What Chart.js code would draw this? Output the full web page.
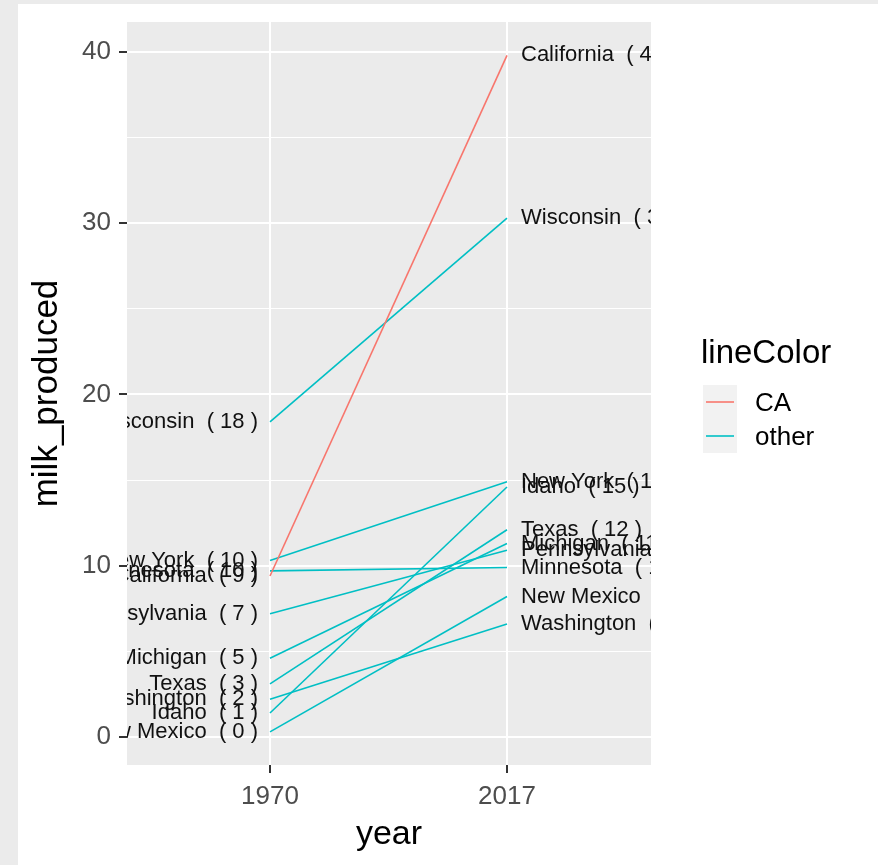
<!DOCTYPE html>
<html>
<head>
<meta charset="utf-8">
<script src="https://cdn.jsdelivr.net/npm/chart.js@4.4.1/dist/chart.umd.min.js"></script>
<style>
  html, body { margin: 0; padding: 0; background: #ebebeb; }
  #wrap { position: absolute; left: 18px; top: 4px; width: 860px; height: 861px; background: #ffffff; }
  #chart { display: block; }
</style>
</head>
<body>
<div id="wrap"><canvas id="chart" width="860" height="861"></canvas></div>
<script>
// datos: producción de leche por estado, 1970 vs 2017
const states = ['California', 'Wisconsin', 'New York', 'Minnesota', 'Pennsylvania', 'Michigan', 'Texas', 'Washington', 'Idaho', 'New Mexico'];
const years = [1970, 2017];
const milk1970 = [9.4, 18.4, 10.3, 9.7, 7.2, 4.6, 3.1, 2.2, 1.4, 0.3];
const milk2017 = [39.8, 30.3, 14.9, 9.9, 10.9, 11.3, 12.1, 6.6, 14.6, 8.2];
const lineColor = ['CA', 'other', 'other', 'other', 'other', 'other', 'other', 'other', 'other', 'other'];
const groups = ['CA', 'other'];
const groupColors = { CA: '#F8766D', other: '#00BFC4' };
const yTicks = [0, 5, 10, 15, 20, 25, 30, 35, 40];

const FONT = '"Liberation Sans", Arial, Helvetica, sans-serif';

const datasets = states.map((s, i) => ({
    label: s,
    data: [{ x: years[0], y: milk1970[i] }, { x: years[1], y: milk2017[i] }],
    borderColor: groupColors[lineColor[i]],
    borderWidth: 1.6,
    pointRadius: 0,
    fill: false,
    tension: 0
}));

function labelText(name, v) {
    return name + '  ( ' + Math.round(v) + ' )';
}

// fondo del panel, etiquetas de texto y leyenda
const slopePlugin = {
    id: 'slope',
    beforeDraw(chart) {
        const { ctx, chartArea: a } = chart;
        ctx.save();
        ctx.fillStyle = '#EBEBEB';
        ctx.fillRect(a.left, a.top, a.right - a.left, a.bottom - a.top);
        ctx.restore();
    },
    afterDatasetsDraw(chart) {
        const { ctx, chartArea: a, scales } = chart;
        const x = scales.x, y = scales.y;
        ctx.save();
        ctx.beginPath();
        ctx.rect(a.left, a.top, a.right - a.left, a.bottom - a.top);
        ctx.clip();
        ctx.font = '22px ' + FONT;
        ctx.fillStyle = '#111111';
        ctx.textBaseline = 'middle';
        states.forEach((s, i) => {
            ctx.textAlign = 'right';
            ctx.fillText(labelText(s, milk1970[i]), x.getPixelForValue(years[0]) - 12, y.getPixelForValue(milk1970[i]));
            ctx.textAlign = 'left';
            ctx.fillText(labelText(s, milk2017[i]), x.getPixelForValue(years[1]) + 14, y.getPixelForValue(milk2017[i]));
        });
        ctx.restore();
    },
    afterDraw(chart) {
        const ctx = chart.ctx;
        ctx.save();
        ctx.fillStyle = '#000';
        ctx.textBaseline = 'middle';
        ctx.textAlign = 'left';
        ctx.font = '33px ' + FONT;
        ctx.fillText('lineColor', 683, 350);
        ctx.font = '26px ' + FONT;
        groups.forEach((g, k) => {
            const top = 381 + k * 34;
            ctx.fillStyle = '#F2F2F2';
            ctx.fillRect(685, top, 34, 34);
            ctx.strokeStyle = groupColors[g];
            ctx.lineWidth = 1.6;
            ctx.beginPath();
            ctx.moveTo(688, top + 17);
            ctx.lineTo(716, top + 17);
            ctx.stroke();
            ctx.fillStyle = '#000';
            ctx.fillText(g, 737, top + 19);
        });
        ctx.restore();
    }
};

const ctx = document.getElementById('chart').getContext('2d');
new Chart(ctx, {
    type: 'line',
    data: { datasets: datasets },
    options: {
        responsive: false,
        animation: false,
        layout: { padding: { left: 0, top: 18, right: 227, bottom: 0 } },
        plugins: { legend: { display: false }, tooltip: { enabled: false } },
        scales: {
            x: {
                type: 'linear',
                min: 1941.64,
                max: 2045.56,
                afterBuildTicks: s => { s.ticks = years.map(v => ({ value: v })); },
                afterFit: s => { s.height = 100; s.paddingLeft = 0; s.paddingRight = 0; },
                border: { display: false },
                grid: { color: '#ffffff', lineWidth: 2, tickColor: '#333333', tickLength: 8, tickWidth: 2 },
                ticks: {
                    color: '#4D4D4D',
                    padding: 8,
                    font: { family: FONT, size: 26 },
                    callback: v => String(v),
                    maxRotation: 0
                },
                title: { display: true, text: 'year', color: '#000', font: { family: FONT, size: 34 }, padding: { top: 0, bottom: 10 } }
            },
            y: {
                min: -1.635,
                max: 41.75,
                afterBuildTicks: s => { s.ticks = yTicks.map(v => ({ value: v })); },
                afterFit: s => { s.width = 109; s.paddingTop = 0; s.paddingBottom = 0; },
                border: { display: false },
                grid: {
                    color: '#ffffff',
                    lineWidth: c => (c.tick && c.tick.value % 10 === 0 ? 2 : 1),
                    tickColor: c => (c.tick && c.tick.value % 10 === 0 ? '#333333' : 'rgba(0,0,0,0)'),
                    tickLength: 8,
                    tickWidth: 2
                },
                ticks: {
                    color: '#4D4D4D',
                    padding: 8,
                    font: { family: FONT, size: 26 },
                    callback: v => (v % 10 === 0 ? String(v) : '')
                },
                title: { display: true, text: 'milk_produced', color: '#000', font: { family: FONT, size: 35 }, padding: { top: 8, bottom: 0 } }
            }
        }
    },
    plugins: [slopePlugin]
});
</script>
</body>
</html>
